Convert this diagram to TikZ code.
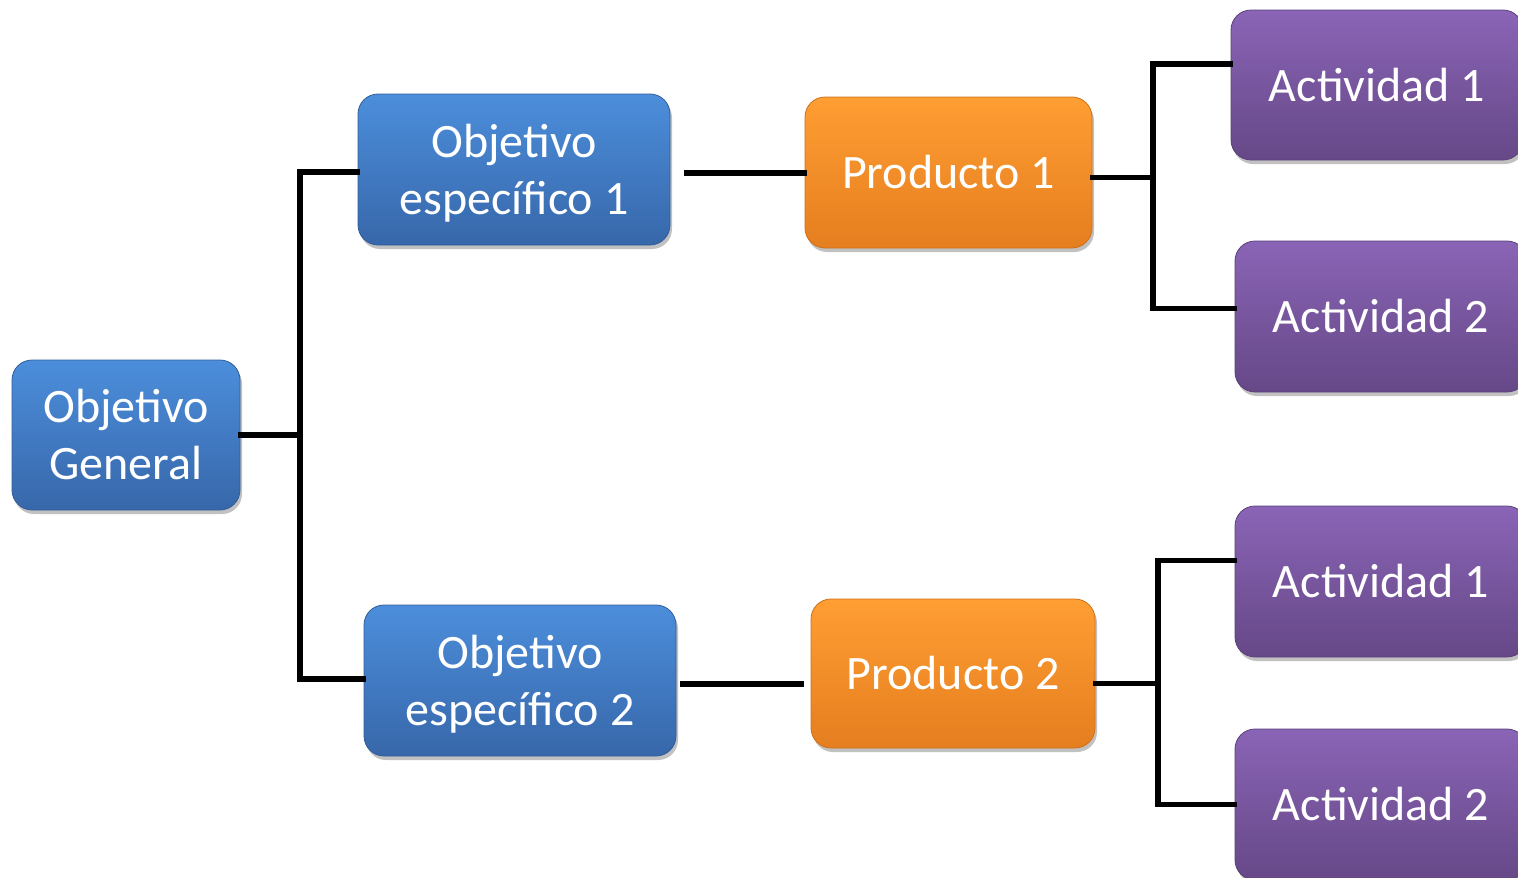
\documentclass[tikz,border=0pt]{standalone}
\usepackage{fontspec}
\setmainfont{Carlito}
\usetikzlibrary{shadows}
\definecolor{btop}{HTML}{4C8EDB}
\definecolor{bbot}{HTML}{3767AA}
\definecolor{otop}{HTML}{FF9E33}
\definecolor{obot}{HTML}{E57E1F}
\definecolor{ptop}{HTML}{8A64B6}
\definecolor{pbot}{HTML}{664887}
\tikzset{
  box/.style={rounded corners=20pt, inner sep=0pt, align=center, text=white,
    font=\fontsize{48}{57}\selectfont,
    drop shadow={shadow xshift=2pt, shadow yshift=-4pt, opacity=0.35, fill=black!70}},
  bluebox/.style={box, top color=btop, bottom color=bbot, draw=bbot!90!black, line width=0.8pt},
  orangebox/.style={box, top color=otop, bottom color=obot, draw=obot!90!black, line width=0.8pt},
  purplebox/.style={box, top color=ptop, bottom color=pbot, draw=pbot!90!black, line width=0.8pt},
  conn/.style={line width=5.5pt, black, line cap=rect}
}
\begin{document}
\begin{tikzpicture}[x=1pt, y=-1pt]
\useasboundingbox (0,0) rectangle (1518,878);
\clip (0,0) rectangle (1518,878);
\node[bluebox, minimum width=228pt, minimum height=150pt] (og) at (126,435) {Objetivo\\General};
\node[bluebox, minimum width=312pt, minimum height=151pt, text depth=0pt] (oe1) at (514,169.5) {Objetivo\\específico 1};
\node[bluebox, minimum width=312pt, minimum height=151pt, text depth=0pt] (oe2) at (520,680.5) {Objetivo\\específico 2};
\node[orangebox, minimum width=287pt, minimum height=151pt] (p1) at (948.5,172.5) {Producto 1};
\node[orangebox, minimum width=284pt, minimum height=149pt] (p2) at (953,673.5) {Producto 2};
\node[purplebox, minimum width=292pt, minimum height=150pt] (a1) at (1377,85) {Actividad 1};
\node[purplebox, minimum width=292pt, minimum height=151pt] (a2) at (1381,316.5) {Actividad 2};
\node[purplebox, minimum width=292pt, minimum height=151pt] (a3) at (1381,581.5) {Actividad 1};
\node[purplebox, minimum width=292pt, minimum height=151pt] (a4) at (1381,804.5) {Actividad 2};
% bus coordinates
\coordinate (b1) at (300,0);
\coordinate (b2) at (1153,0);
\coordinate (b3) at (1158,0);
\coordinate (oe1w) at ([yshift=-2.5pt]oe1.west);
\coordinate (oe2w) at ([yshift=1.5pt]oe2.west);
\coordinate (oe1e) at ([xshift=16pt,yshift=-3.5pt]oe1.east);
\coordinate (oe2e) at ([xshift=6pt,yshift=-3.5pt]oe2.east);
\coordinate (p1e) at ([yshift=-5pt]p1.east);
\coordinate (p2e) at ([yshift=-10pt]p2.east);
\coordinate (a1w) at ([yshift=21pt]a1.west);
\coordinate (a2w) at ([yshift=8pt]a2.west);
\coordinate (a3w) at ([yshift=21pt]a3.west);
% connectors
\draw[conn] (og.east) -- (og.east -| b1);
\draw[conn] (oe1w) -| (b1 |- oe2w) -- (oe2w);
\draw[conn] (oe1e) -- (p1.west |- oe1e);
\draw[conn] (oe2e) -- ([xshift=-9pt]p2.west |- oe2e);
\draw[conn] (p1e) -- (b2 |- p1e);
\draw[conn] (a1w) -| (b2 |- a2w) -- (a2w);
\draw[conn] (p2e) -- (b3 |- p2e);
\draw[conn] (a3w) -| (b3 |- a4.west) -- (a4.west);
\end{tikzpicture}
\end{document}
